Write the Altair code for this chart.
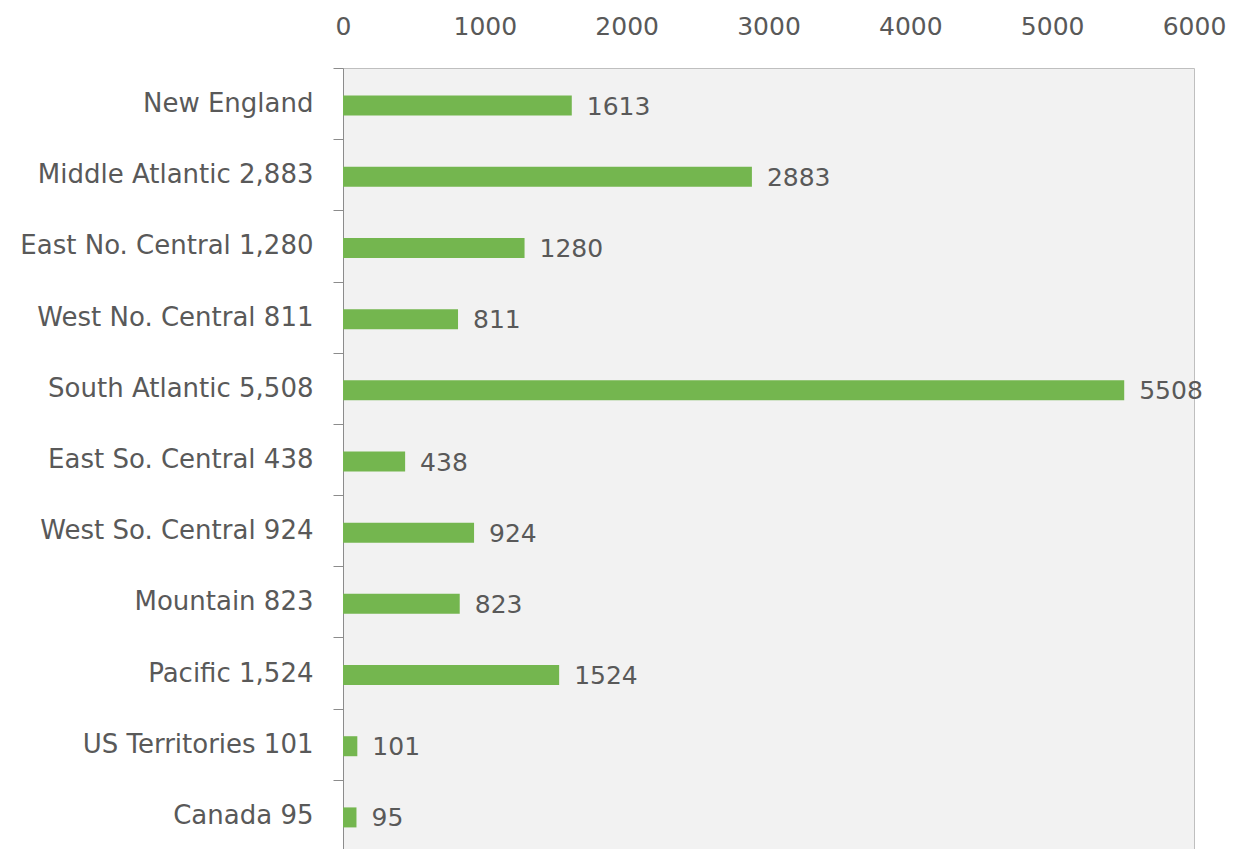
import altair as alt
import pandas as pd

categories = ["New England ", "Middle Atlantic 2,883", "East No. Central 1,280",
              "West No. Central 811", "South Atlantic 5,508", "East So. Central 438",
              "West So. Central 924", "Mountain 823", "Pacific 1,524",
              "US Territories 101", "Canada 95"]
values = [1613, 2883, 1280, 811, 5508, 438, 924, 823, 1524, 101, 95]
x_ticks = [0, 1000, 2000, 3000, 4000, 5000, 6000]

df = pd.DataFrame({"region": categories, "value": values})

FONT = "DejaVu Sans"
TXT = "#595959"

y_enc = alt.Y("region:N", sort=categories,
              scale=alt.Scale(paddingInner=0, paddingOuter=0),
              axis=alt.Axis(title=None, tickBand="extent", tickSize=10,
                            labelPadding=20, labelFontSize=26, labelFont=FONT,
                            labelColor=TXT, domainColor="#8c8c8c",
                            tickColor="#8c8c8c", labelLimit=400))
x_enc = alt.X("value:Q", scale=alt.Scale(domain=[0, 6000], nice=False),
              axis=alt.Axis(orient="top", title=None, values=x_ticks,
                            grid=False, ticks=False, domain=False, labelFlush=False,
                            labelPadding=29, labelFontSize=25, labelFont=FONT,
                            labelColor=TXT, format="d"))

bars = alt.Chart(df).mark_bar(size=20, color="#74b64f", yOffset=2).encode(x=x_enc, y=y_enc)
labels = alt.Chart(df).mark_text(align="left", baseline="middle", dx=15, dy=3,
                                 fontSize=25, font=FONT, color=TXT).encode(
    x="value:Q", y=alt.Y("region:N", sort=categories), text="value:Q")

chart = (bars + labels).properties(
    width=851, height=783,
    autosize=alt.AutoSizeParams(type="none"),
    padding={"left": 335, "top": 60, "right": 50, "bottom": 0},
).configure_view(fill="#f2f2f2", stroke="#bfbfbf")

chart.save("out.html", embed_options={"renderer": "svg", "actions": False})
